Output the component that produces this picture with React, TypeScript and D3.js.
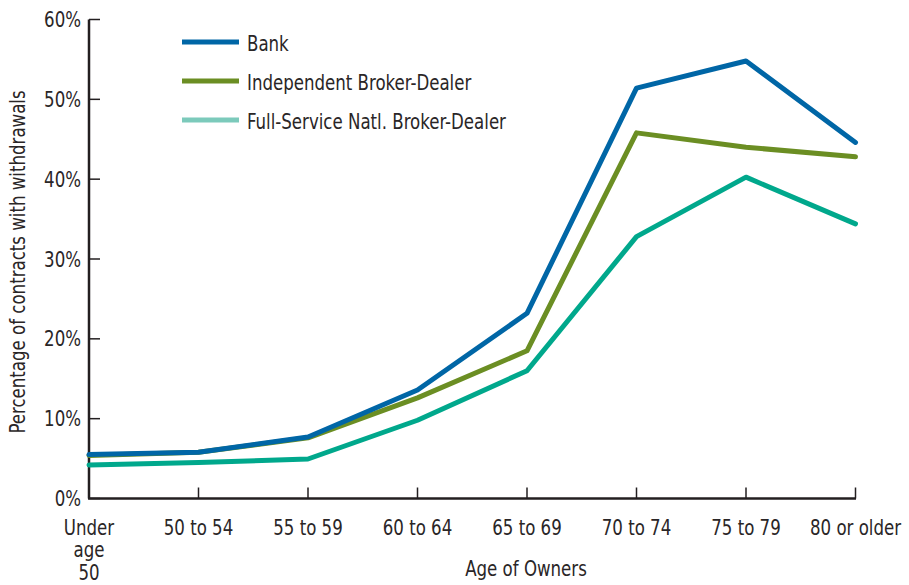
import React from "react";
import * as d3 from "d3";

const categories = ["Under age 50", "50 to 54", "55 to 59", "60 to 64", "65 to 69", "70 to 74", "75 to 79", "80 or older"];
const categoryLines = [["Under", "age", "50"], ["50 to 54"], ["55 to 59"], ["60 to 64"], ["65 to 69"], ["70 to 74"], ["75 to 79"], ["80 or older"]];
const bankValues = [5.5, 5.8, 7.7, 13.6, 23.2, 51.4, 54.8, 44.6];
const independentValues = [5.4, 5.8, 7.6, 12.6, 18.5, 45.8, 44.0, 42.8];
const fullServiceValues = [4.2, 4.5, 4.95, 9.8, 16.0, 32.8, 40.25, 34.4];
const yTicks = [0, 10, 20, 30, 40, 50, 60];

const seriesList = [
  { name: "Bank", values: bankValues, color: "#0066a6", legendColor: "#0066a6" },
  { name: "Independent Broker-Dealer", values: independentValues, color: "#6b8e23", legendColor: "#6b8e23" },
  { name: "Full-Service Natl. Broker-Dealer", values: fullServiceValues, color: "#00a88c", legendColor: "#7ccabb" },
];

const FONT = "'DejaVu Sans Condensed', 'DejaVu Sans', sans-serif";
const W = 909, H = 585;
const SX = 0.88;
const FS = 21;
const TEXT = "#2a2627";

function T({ x, y, anchor = "start", rotate = 0, children }: { x: number; y: number; anchor?: string; rotate?: number; children: React.ReactNode }) {
  return (
    <text
      transform={`translate(${x},${y}) rotate(${rotate}) scale(${SX},1)`}
      textAnchor={anchor}
      dy="0.36em"
      fontSize={FS}
      fill={TEXT}
    >
      {children}
    </text>
  );
}

export default function App() {
  const x = d3.scalePoint<string>().domain(categories).range([89, 855.5]);
  const y = d3.scaleLinear().domain([0, 60]).range([498.5, 19.5]);
  const line = d3.line<number>().x((_, i) => x(categories[i]) as number).y((d) => y(d));
  const axisColor = "#231f20";

  return (
    <svg width={W} height={H} style={{ position: "absolute", left: 0, top: 0, background: "#fff" }} fontFamily={FONT}>
      {/* y axis */}
      <line x1={89} x2={89} y1={y(60)} y2={y(0)} stroke={axisColor} strokeWidth={2.5} />
      {yTicks.map((t) => (
        <g key={t}>
          <line x1={89} x2={100} y1={y(t)} y2={y(t)} stroke={axisColor} strokeWidth={1.5} />
          <T x={81} y={y(t)} anchor="end">{t}%</T>
        </g>
      ))}
      {/* x axis */}
      <line x1={88} x2={856} y1={y(0)} y2={y(0)} stroke={axisColor} strokeWidth={2.5} />
      {categories.map((c, i) => (
        <g key={c}>
          {i > 0 && <line x1={x(c)} x2={x(c)} y1={y(0)} y2={y(0) - 11} stroke={axisColor} strokeWidth={1.5} />}
          {categoryLines[i].map((l, j) => (
            <T key={j} x={x(c) as number} y={527 + j * 22.5} anchor="middle">{l}</T>
          ))}
        </g>
      ))}
      {/* axis titles */}
      <T x={526} y={568} anchor="middle">Age of Owners</T>
      <T x={17} y={262} anchor="middle" rotate={-90}>Percentage of contracts with withdrawals</T>
      {/* lines */}
      {seriesList.slice().reverse().map((s) => (
        <path key={s.name} d={line(s.values) || ""} fill="none" stroke={s.color} strokeWidth={5} strokeLinejoin="round" strokeLinecap="round" />
      ))}
      {/* legend */}
      {seriesList.map((s, i) => (
        <g key={s.name}>
          <line x1={182} x2={239} y1={42 + i * 39} y2={42 + i * 39} stroke={s.legendColor} strokeWidth={5} />
          <T x={247} y={43 + i * 39}>{s.name}</T>
        </g>
      ))}
    </svg>
  );
}
